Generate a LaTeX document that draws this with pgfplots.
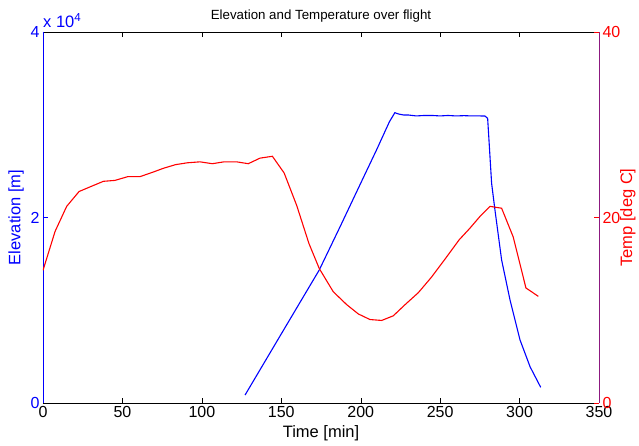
\documentclass[border=0pt]{standalone}
\usepackage{pgfplots}
\pgfplotsset{compat=1.18}
\usepackage{fontspec}
\setmainfont{Liberation Sans}
\definecolor{mblue}{rgb}{0,0,1}
\definecolor{mred}{rgb}{1,0,0}
\definecolor{mpurp}{rgb}{0.55,0.1,0.5}
\pgfplotsset{
  every axis/.append style={
    tick label style={font=\fontsize{16}{18}\selectfont},
    label style={font=\fontsize{16.5}{19}\selectfont},
    title style={font=\fontsize{13.3}{15}\selectfont},
  }
}
\begin{document}
\begin{tikzpicture}
\useasboundingbox (-43pt,-43pt) rectangle (596pt,403pt);
\begin{axis}[
  scale only axis, width=556pt, height=371pt,
  xmin=0, xmax=350, ymin=0, ymax=40000,
  clip=false,
  separate axis lines,
  x axis line style={black, line width=0.9pt},
  y axis line style={mblue, line width=0.9pt},
  tick align=inside, major tick length=5pt,
  xtick={0,50,...,350}, xtick pos=both,
  ytick={0,20000,40000}, yticklabels={0,2,4}, ytick pos=left,
  scaled y ticks=false,
  y tick label style={text=mblue},
  y tick style={mblue},
  x tick style={black},
  /pgf/number format/assume math mode=true,
  ylabel={Elevation [m]}, ylabel style={text=mblue},
  xlabel={Time [min]},
  xlabel style={yshift=-1pt},
  title={Elevation and Temperature over flight},
]
\addplot[mblue, line width=1.1pt] coordinates {
(127.2,860) (150,7450) (173.9,14340) (187,19000) (200,23700) (210,27300)
(218,30300) (221.5,31300) (224,31150) (227,31050) (230,31050) (235,30950)
(240,31000) (245,31000) (250,30950) (255,31000) (260,30950) (265,30980)
(270,30950) (275,30950) (278.2,30940) (279.9,30690) (282.4,23690)
(284.5,20810) (288.7,15420) (294,11100) (300.3,6790) (306.6,3910) (313.3,1690)
};
\node[anchor=base west, text=mblue, font=\fontsize{16.5}{18}\selectfont, inner sep=0pt] at (axis cs:0,40000) [yshift=4pt] {x 10\textsuperscript{4}};
\end{axis}
\begin{axis}[
  scale only axis, width=556pt, height=371pt,
  xmin=0, xmax=350, ymin=0, ymax=40,
  axis x line=none, axis y line*=right,
  y axis line style={mpurp, line width=0.9pt},
  tick align=inside, major tick length=5pt,
  ytick={0,20,40}, ytick pos=right,
  y tick label style={text=mred},
  y tick style={mred},
  /pgf/number format/assume math mode=true,
  ylabel={Temp [deg C]}, ylabel style={text=mred},
  ylabel shift={-7pt},
]
\addplot[mred, line width=1.1pt] coordinates {
(0,14.3) (7.6,18.5) (14.9,21.2) (22.7,22.8) (29.6,23.3) (38,23.9) (45.3,24.0)
(53.3,24.4) (61,24.4) (69.4,24.9) (75.7,25.3) (83.5,25.7) (91,25.9) (98.8,26.0)
(106.6,25.8) (113.9,26.0) (121.9,26.0) (129.2,25.8) (136.6,26.4) (144.4,26.6)
(151.8,24.8) (159.7,21.3) (167.4,17.2) (173.9,14.5) (182.7,12.0) (191.2,10.6)
(198.5,9.6) (205.8,9.0) (213.2,8.9) (220.5,9.4) (227.9,10.6) (236.3,11.9)
(244.7,13.6) (253,15.5) (262,17.6) (268.5,18.8) (275,20.1) (281.4,21.2)
(288.7,21.0) (296,17.9) (304,12.4) (311.8,11.5)
};
\end{axis}
\end{tikzpicture}
\end{document}
